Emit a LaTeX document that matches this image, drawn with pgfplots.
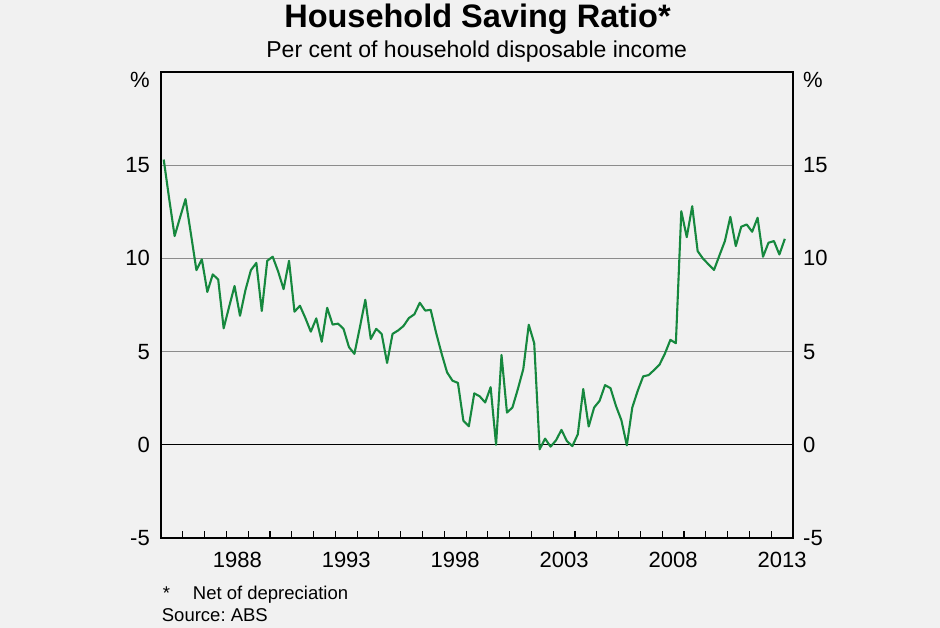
\documentclass[border=0pt]{standalone}
\usepackage{fontspec}
\setmainfont{Liberation Sans}
\usepackage{pgfplots}
\pgfplotsset{compat=1.18}
\usepackage{pgfplotstable}
\definecolor{bg}{RGB}{241,241,241}
\definecolor{rbagreen}{RGB}{22,136,62}
\definecolor{gridgray}{RGB}{140,140,140}
\frenchspacing

\pgfplotstableread{
year value
1985.125 15.3
1985.375 13.2
1985.625 11.2
1985.875 12.2
1986.125 13.18
1986.375 11.3
1986.625 9.37
1986.875 9.95
1987.125 8.2
1987.375 9.14
1987.625 8.87
1987.875 6.25
1988.125 7.4
1988.375 8.52
1988.625 6.92
1988.875 8.3
1989.125 9.37
1989.375 9.76
1989.625 7.18
1989.875 9.87
1990.125 10.09
1990.375 9.3
1990.625 8.35
1990.875 9.87
1991.125 7.14
1991.375 7.46
1991.625 6.8
1991.875 6.07
1992.125 6.78
1992.375 5.53
1992.625 7.35
1992.875 6.45
1993.125 6.5
1993.375 6.22
1993.625 5.24
1993.875 4.88
1994.125 6.3
1994.375 7.78
1994.625 5.68
1994.875 6.22
1995.125 5.95
1995.375 4.39
1995.625 5.95
1995.875 6.13
1996.125 6.37
1996.375 6.8
1996.625 7.0
1996.875 7.62
1997.125 7.2
1997.375 7.24
1997.625 6.0
1997.875 4.9
1998.125 3.89
1998.375 3.44
1998.625 3.32
1998.875 1.29
1999.125 0.99
1999.375 2.76
1999.625 2.6
1999.875 2.27
2000.125 3.09
2000.375 0.0
2000.625 4.82
2000.875 1.73
2001.125 2.0
2001.375 2.99
2001.625 4.07
2001.875 6.44
2002.125 5.45
2002.375 -0.24
2002.625 0.33
2002.875 -0.1
2003.125 0.24
2003.375 0.8
2003.625 0.2
2003.875 -0.07
2004.125 0.56
2004.375 2.99
2004.625 0.98
2004.875 2.0
2005.125 2.36
2005.375 3.2
2005.625 3.04
2005.875 2.09
2006.125 1.32
2006.375 -0.03
2006.625 2.0
2006.875 2.9
2007.125 3.67
2007.375 3.74
2007.625 4.01
2007.875 4.3
2008.125 4.9
2008.375 5.63
2008.625 5.45
2008.875 12.53
2009.125 11.14
2009.375 12.8
2009.625 10.39
2009.875 9.98
2010.125 9.68
2010.375 9.38
2010.625 10.16
2010.875 10.93
2011.125 12.23
2011.375 10.66
2011.625 11.7
2011.875 11.82
2012.125 11.43
2012.375 12.18
2012.625 10.09
2012.875 10.84
2013.125 10.93
2013.375 10.21
2013.625 11.05
}\saving

\pgfplotsset{
  rbabase/.style={
    at={(161bp,90bp)}, anchor=south west,
    scale only axis, width=632bp, height=466bp,
    xmin=1985, xmax=2014, ymin=-5, ymax=20,
    tick label style={font=\fontsize{22bp}{26bp}\selectfont, inner sep=0pt},
    ytick={-5,0,5,10,15},
    yticklabels={-5,0,5,10,15},
    ytick style={draw=none},
    extra y ticks={20},
    extra y tick labels={\%},
    extra y tick style={grid=none, tick label style={yshift=-8bp}},
  }
}

\begin{document}
\begin{tikzpicture}
\fill[bg] (0,0) rectangle (940bp,628bp);
\useasboundingbox (0,0) rectangle (940bp,628bp);

\begin{axis}[
  rbabase,
  axis line style={black, line width=1.3bp},
  ymajorgrids,
  major grid style={gridgray, line width=1.1bp},
  yticklabel pos=left,
  yticklabel shift=11bp,
  xtick={1988.5,1993.5,1998.5,2003.5,2008.5,2013.5},
  xticklabels={1988,1993,1998,2003,2008,2013},
  major x tick style={draw=none},
  minor xtick={1986,1987,...,2013},
  minor x tick style={black, line width=1.1bp},
  minor tick length=7bp,
  tick align=inside,
  xtick pos=bottom,
  xticklabel shift=13.5bp,
]
\addplot[black, line width=1.3bp, forget plot] coordinates {(1985,0) (2014,0)};
\addplot[rbagreen, line width=2.1bp, line join=round] table[x=year, y=value] {\saving};
\end{axis}

\begin{axis}[
  rbabase,
  axis line style={draw=none},
  xtick=\empty,
  yticklabel pos=right,
  yticklabel shift=10bp,
]
\end{axis}

\node[anchor=base, inner sep=0pt, font=\fontsize{32.5bp}{36bp}\selectfont\bfseries] at (477.5bp,600.7bp) {Household Saving Ratio*};
\node[anchor=base, inner sep=0pt, font=\fontsize{23bp}{27bp}\selectfont] at (476.7bp,570.7bp) {Per cent of household disposable income};
\node[anchor=base west, inner sep=0pt, font=\fontsize{18.5bp}{22bp}\selectfont] at (162.7bp,28.7bp) {*};
\node[anchor=base west, inner sep=0pt, font=\fontsize{18.5bp}{22bp}\selectfont] at (192.7bp,28.7bp) {Net of depreciation};
\node[anchor=base west, inner sep=0pt, font=\fontsize{18.5bp}{22bp}\selectfont] at (161.7bp,6.3bp) {Source: ABS};
\end{tikzpicture}
\end{document}
